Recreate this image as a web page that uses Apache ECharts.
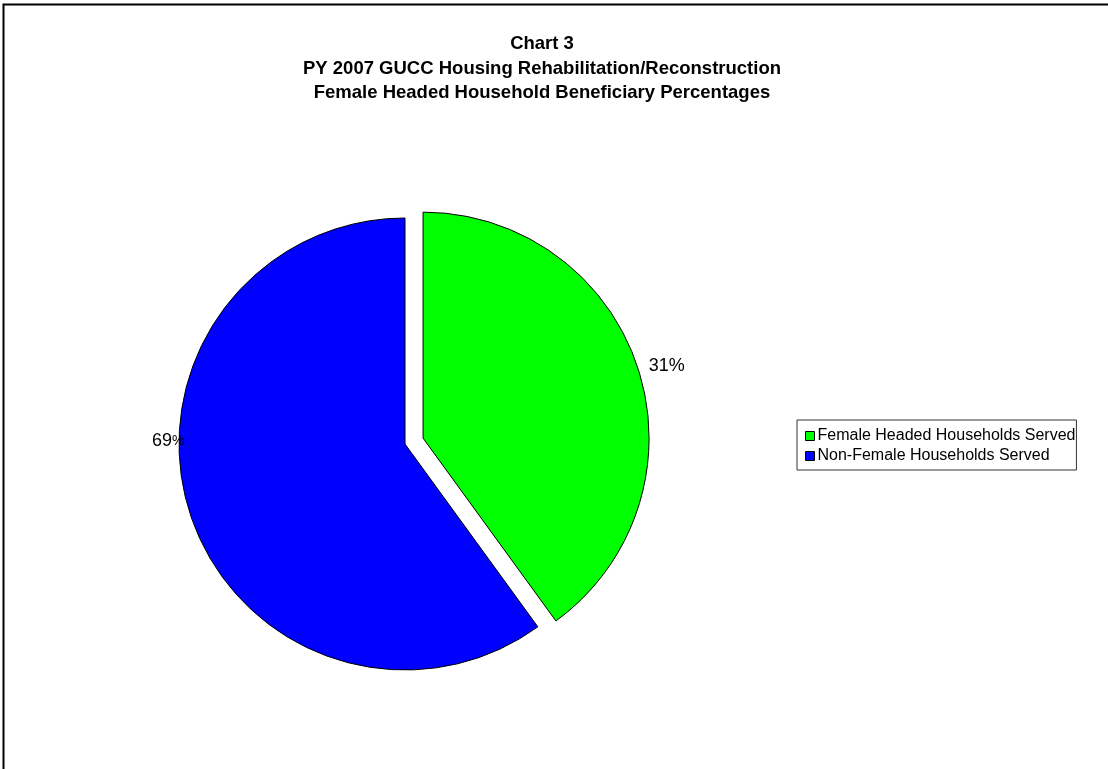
<!DOCTYPE html>
<html>
<head>
<meta charset="utf-8">
<script src="https://cdn.jsdelivr.net/npm/echarts@6/dist/echarts.min.js"></script>
<style>
html,body{margin:0;padding:0;background:#fff;}
#chart{width:1108px;height:769px;}
</style>
</head>
<body>
<div id="chart"></div>
<script>
// Data
const categories = ["Female Headed Households Served", "Non-Female Households Served"];
const sliceValues = [40, 60];           // slice sizes as drawn in the picture
const sliceLabels = ["31%", "69%"];     // label texts as printed on the chart
const sliceColors = ["#00FF00", "#0000FF"];
const titleLines = ["Chart 3", "PY 2007 GUCC Housing Rehabilitation/Reconstruction", "Female Headed Household Beneficiary Percentages"];

const chart = echarts.init(document.getElementById('chart'), null, {renderer: 'canvas'});

const pieData = categories.map((c, i) => ({
  name: c,
  value: sliceValues[i],
  selected: i === 0,
  itemStyle: {color: sliceColors[i]},
  label: i === 0
    ? {formatter: sliceLabels[i]}
    : {formatter: sliceLabels[i].replace('%', '{s|%}'), offset: [5, -75]}
}));

chart.setOption({
  animation: false,
  backgroundColor: '#fff',
  title: {
    text: titleLines.join('\n'),
    left: 537,
    textAlign: 'center',
    top: 27,
    textStyle: {fontFamily: 'Liberation Sans, Arial, sans-serif', fontSize: 18.5, fontWeight: 'bold', color: '#000', lineHeight: 24.5}
  },
  legend: {
    orient: 'vertical',
    left: 797,
    top: 420,
    padding: [8, 1, 6, 8],
    itemWidth: 9,
    itemHeight: 9,
    itemGap: 4,
    icon: 'rect',
    backgroundColor: '#fff',
    borderColor: '#333',
    borderWidth: 1,
    selectedMode: false,
    itemStyle: {borderColor: '#000', borderWidth: 1},
    textStyle: {fontFamily: 'Liberation Sans, Arial, sans-serif', fontSize: 16, color: '#000', padding: [0, 0, 0, -2]},
    data: categories
  },
  graphic: [{
    type: 'rect',
    silent: true,
    shape: {x: 3.5, y: 4.5, width: 1300, height: 1000},
    style: {fill: 'none', stroke: '#000', lineWidth: 2}
  }],
  series: [{
    type: 'pie',
    center: [405, 444],
    radius: 226,
    startAngle: 90,
    clockwise: true,
    selectedMode: 'single',
    selectedOffset: 19,
    avoidLabelOverlap: false,
    emphasis: {disabled: true},
    select: {itemStyle: {borderColor: '#000', borderWidth: 1}},
    itemStyle: {borderColor: '#000', borderWidth: 1},
    label: {
      show: true,
      position: 'outside',
      fontFamily: 'Liberation Sans, Arial, sans-serif',
      fontSize: 18,
      color: '#000',
      rich: {s: {fontSize: 14, fontFamily: 'Liberation Sans, Arial, sans-serif', color: '#000'}}
    },
    labelLine: {show: false, length: 6, length2: 0},
    data: pieData
  }]
});
</script>
</body>
</html>
